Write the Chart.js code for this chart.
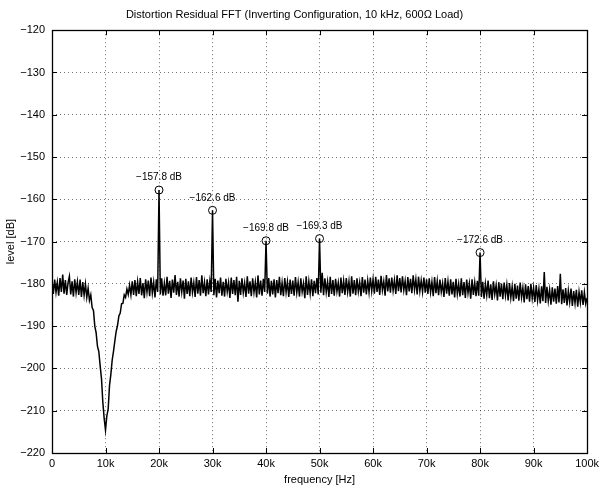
<!DOCTYPE html>
<html>
<head>
<meta charset="utf-8">
<script src="https://cdn.jsdelivr.net/npm/chart.js@4.4.1/dist/chart.umd.min.js"></script>
<style>
  html, body { margin: 0; padding: 0; background: #ffffff; }
  canvas { display: block; }
</style>
</head>
<body>
<canvas id="c" width="603" height="488"></canvas>
<script>
// ---- data ----
const binStepHz = 250; // FFT trace sampled every 250 Hz from 0 to 100 kHz
const traceLevel = [
  // 0 - 4.75 kHz
  -179.3, -182.4, -179.0, -182.0, -179.6, -182.8, -178.6, -181.9, -177.8, -182.3, -179.1, -182.6, -179.7, -178.2, -182.5, -179.4, -183.0, -178.9, -182.1, -179.5,
  // 5 - 9.75 kHz
  -182.6, -179.0, -183.1, -179.6, -182.7, -180.0, -183.2, -181.0, -183.9, -182.6, -185.6, -186.3, -190.0, -191.6, -194.8, -196.0, -199.4, -202.4, -208.0, -211.8,
  // 10 - 14.75 kHz
  -214.6, -211.2, -209.6, -204.0, -201.4, -198.0, -195.9, -193.4, -191.2, -189.8, -187.6, -186.9, -184.7, -184.6, -182.6, -183.2, -181.2, -182.5, -180.3, -182.6,
  // 15 - 19.75 kHz
  -179.4, -182.6, -179.1, -182.9, -179.5, -182.4, -178.6, -182.7, -179.8, -183.4, -178.9, -182.0, -179.2, -182.9, -178.5, -182.2, -179.6, -183.2, -178.9, -181.9,
  // 20 - 24.75 kHz
  -157.8, -182.5, -178.7, -182.8, -179.8, -182.7, -178.3, -182.3, -179.3, -183.3, -179.0, -182.1, -177.9, -182.6, -179.5, -183.0, -178.7, -181.9, -179.2, -183.5,
  // 25 - 29.75 kHz
  -178.8, -182.4, -179.4, -182.9, -178.5, -182.0, -179.7, -183.1, -178.4, -182.3, -179.1, -182.8, -178.0, -182.2, -179.6, -182.9, -178.9, -182.5, -179.3, -181.9,
  // 30 - 34.75 kHz
  -162.6, -182.7, -178.8, -183.2, -179.2, -182.2, -178.5, -182.8, -179.5, -183.0, -178.8, -181.9, -179.7, -183.3, -178.5, -182.4, -179.1, -182.7, -178.3, -184.2,
  // 35 - 39.75 kHz
  -179.3, -182.6, -178.7, -182.1, -179.8, -183.1, -178.2, -182.3, -179.4, -182.9, -178.7, -182.0, -179.6, -183.2, -178.0, -182.5, -179.2, -182.8, -178.8, -181.9,
  // 40 - 44.75 kHz
  -169.8, -182.3, -178.6, -183.0, -179.3, -182.5, -178.9, -183.2, -179.1, -182.2, -178.3, -182.7, -179.7, -182.9, -178.6, -182.0, -179.5, -183.1, -179.0, -182.4,
  // 45 - 49.75 kHz
  -179.2, -182.8, -178.4, -182.1, -179.6, -183.0, -178.7, -181.9, -179.9, -183.4, -178.2, -182.6, -179.4, -182.3, -178.9, -182.9, -179.3, -182.2, -178.6, -182.5,
  // 50 - 54.75 kHz
  -169.3, -182.1, -177.4, -182.7, -178.7, -182.0, -179.5, -183.1, -178.3, -182.4, -179.1, -182.8, -178.8, -181.8, -179.7, -183.0, -178.5, -182.2, -179.3, -182.6,
  // 55 - 59.75 kHz
  -178.6, -181.9, -179.4, -183.0, -178.2, -182.3, -179.1, -182.7, -178.7, -181.8, -179.6, -182.9, -178.4, -182.1, -179.0, -182.5, -179.2, -182.0, -178.5, -181.7,
  // 60 - 64.75 kHz
  -178.9, -182.3, -178.3, -181.9, -179.0, -182.6, -178.1, -181.5, -179.4, -182.8, -177.9, -181.8, -178.7, -182.1, -178.5, -181.6, -179.1, -182.4, -178.0, -181.7,
  // 65 - 69.75 kHz
  -178.6, -182.0, -178.2, -181.5, -179.3, -182.7, -178.4, -181.8, -178.8, -182.2, -178.0, -181.4, -178.9, -182.5, -178.3, -181.7, -179.2, -181.9, -178.5, -182.1,
  // 70 - 74.75 kHz
  -178.9, -182.4, -178.7, -182.0, -179.5, -182.9, -178.4, -182.2, -179.3, -182.7, -179.0, -181.9, -179.8, -183.1, -178.6, -182.3, -179.4, -182.8, -178.9, -182.5,
  // 75 - 79.75 kHz
  -179.5, -183.2, -178.8, -182.4, -180.0, -183.0, -178.7, -182.7, -179.6, -183.3, -179.0, -182.2, -179.9, -183.5, -178.9, -182.6, -179.7, -182.9, -179.3, -182.8,
  // 80 - 84.75 kHz
  -172.6, -183.1, -179.5, -183.5, -180.0, -182.7, -179.2, -183.4, -180.1, -183.8, -179.4, -182.5, -180.3, -183.9, -179.6, -183.0, -179.9, -183.6, -179.7, -182.8,
  // 85 - 89.75 kHz
  -180.2, -183.9, -179.8, -183.3, -180.6, -184.1, -180.0, -183.5, -180.4, -184.0, -179.7, -183.2, -180.9, -184.4, -180.1, -183.6, -180.5, -184.2, -180.0, -183.4,
  // 90 - 94.75 kHz
  -180.9, -184.3, -180.3, -183.9, -181.2, -184.6, -180.6, -184.1, -177.2, -184.5, -180.7, -184.0, -181.4, -184.9, -180.8, -184.2, -181.1, -184.7, -180.5, -184.4,
  // 95 - 99.75 kHz
  -177.6, -184.8, -181.3, -184.5, -181.0, -185.1, -181.6, -184.3, -181.1, -185.2, -181.7, -184.6, -181.4, -185.4, -181.9, -184.4, -181.5, -185.0, -182.0, -184.7,
  // 100 kHz
  -183.3
];
const harmonicFreq  = [20000, 30000, 40000, 50000, 80000];
const harmonicLevel = [-157.8, -162.6, -169.8, -169.3, -172.6];
const harmonicLabels = ['\u2212157.8 dB', '\u2212162.6 dB', '\u2212169.8 dB', '\u2212169.3 dB', '\u2212172.6 dB'];
const xTicks = [0, 10000, 20000, 30000, 40000, 50000, 60000, 70000, 80000, 90000, 100000];
const xTickLabels = ['0', '10k', '20k', '30k', '40k', '50k', '60k', '70k', '80k', '90k', '100k'];
const yMin = -220, yMax = -120, yStep = 10;
const titleText = 'Distortion Residual FFT (Inverting Configuration, 10 kHz, 600\u03A9 Load)';
const xTitle = 'frequency [Hz]';
const yTitle = 'level [dB]';

// ---- build library structures ----
const tracePoints = traceLevel.map((v, i) => ({ x: i * binStepHz, y: v }));
const harmonicPoints = harmonicFreq.map((f, i) => ({ x: f, y: harmonicLevel[i] }));
const FONT = '"Liberation Sans", Arial, Helvetica, sans-serif';

const frameAndLabels = {
  id: 'frameAndLabels',
  afterDatasetsDraw(chart) {
    const ctx = chart.ctx;
    const meta = chart.getDatasetMeta(1);
    ctx.save();
    ctx.fillStyle = '#000';
    ctx.font = '10px ' + FONT;
    ctx.textAlign = 'center';
    ctx.textBaseline = 'middle';
    meta.data.forEach((pt, i) => {
      ctx.fillText(harmonicLabels[i], pt.x, pt.y - 12.5);
    });
    ctx.restore();
  },
  afterDraw(chart) {
    const ctx = chart.ctx;
    const a = chart.chartArea;
    const xs = chart.scales.x, ys = chart.scales.y;
    const tl = 5;
    ctx.save();
    ctx.strokeStyle = '#000';
    ctx.lineWidth = 1;
    ctx.beginPath();
    xs.ticks.forEach(t => {
      const px = Math.round(xs.getPixelForValue(t.value)) + 0.5;
      ctx.moveTo(px, a.bottom); ctx.lineTo(px, a.bottom - tl);
      ctx.moveTo(px, a.top); ctx.lineTo(px, a.top + tl);
    });
    ys.ticks.forEach(t => {
      const py = Math.round(ys.getPixelForValue(t.value)) + 0.5;
      ctx.moveTo(a.left, py); ctx.lineTo(a.left + tl, py);
      ctx.moveTo(a.right, py); ctx.lineTo(a.right - tl, py);
    });
    ctx.stroke();
    ctx.lineWidth = 1.3;
    ctx.strokeRect(Math.round(a.left) + 0.5, Math.round(a.top) + 0.5,
                   Math.round(a.right - a.left), Math.round(a.bottom - a.top));
    ctx.restore();
  }
};

new Chart(document.getElementById('c'), {
  type: 'line',
  data: {
    datasets: [
      {
        data: tracePoints,
        borderColor: '#000',
        borderWidth: 1.5,
        pointRadius: 0,
        tension: 0,
        fill: false,
        order: 1
      },
      {
        type: 'scatter',
        data: harmonicPoints,
        showLine: false,
        pointStyle: 'circle',
        pointRadius: 4,
        borderColor: '#000',
        borderWidth: 1,
        backgroundColor: 'rgba(0,0,0,0)',
        order: 0
      }
    ]
  },
  options: {
    responsive: false,
    animation: false,
    events: [],
    layout: { padding: { left: 0, right: 14, top: 0, bottom: 0 } },
    plugins: {
      legend: { display: false },
      tooltip: { enabled: false },
      title: {
        display: true,
        text: titleText,
        color: '#000',
        font: { family: FONT, size: 11, weight: 'normal' },
        padding: { top: 8, bottom: 9 }
      }
    },
    scales: {
      x: {
        type: 'linear',
        min: 0, max: 100000,
        afterBuildTicks(scale) { scale.ticks = xTicks.map(v => ({ value: v })); },
        afterFit(scale) { scale.height = 35; },
        ticks: {
          color: '#000',
          font: { family: FONT, size: 11 },
          padding: 4,
          maxRotation: 0,
          autoSkip: false,
          callback: (v) => { const i = xTicks.indexOf(v); return i >= 0 ? xTickLabels[i] : ''; }
        },
        grid: { color: 'rgba(0,0,0,0.55)', lineWidth: 1, drawTicks: false },
        border: { display: false, dash: [1, 3] },
        title: {
          display: true, text: xTitle, color: '#000',
          font: { family: FONT, size: 11 },
          padding: { top: 0, bottom: 1 }
        }
      },
      y: {
        min: yMin, max: yMax,
        afterFit(scale) { scale.width = 52; },
        ticks: {
          stepSize: yStep,
          color: '#000',
          font: { family: FONT, size: 11 },
          padding: 7,
          callback: (v) => String(v).replace('-', '\u2212')
        },
        grid: { color: 'rgba(0,0,0,0.55)', lineWidth: 1, drawTicks: false },
        border: { display: false, dash: [1, 3] },
        title: {
          display: true, text: yTitle, color: '#000',
          font: { family: FONT, size: 11 },
          padding: { top: 4, bottom: 0 }
        }
      }
    }
  },
  plugins: [frameAndLabels]
});
</script>
</body>
</html>
